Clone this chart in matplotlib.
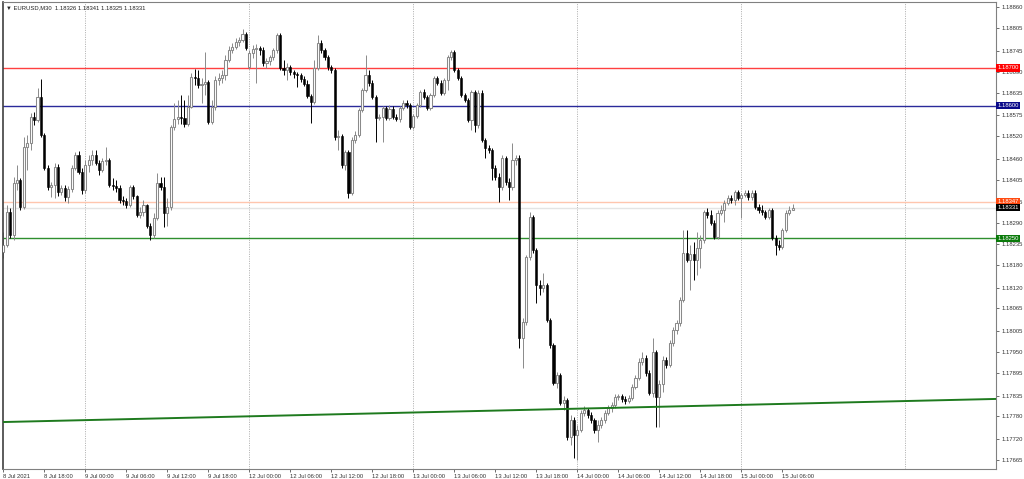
"""EURUSD M30 candlestick chart in the MetaTrader style."""

import matplotlib

matplotlib.use("Agg")

import matplotlib.pyplot as plt
import numpy as np

plt.rcParams["font.family"] = ["Liberation Sans Narrow", "Liberation Sans", "DejaVu Sans"]

HEADER = "\u25bc EURUSD,M30  1.18326 1.18341 1.18325 1.18331"

# OHLC of each M30 bar, from 8 Jul 2021 12:00 to 15 Jul 2021 07:30
OPENS = [
    1.18214, 1.18232, 1.18320, 1.18259, 1.18396, 1.18404, 1.18333, 1.18491, 1.18502, 1.18570,
    1.18562, 1.18623, 1.18523, 1.18436, 1.18386, 1.18391, 1.18438, 1.18372, 1.18383, 1.18359,
    1.18380, 1.18436, 1.18470, 1.18425, 1.18378, 1.18444, 1.18457, 1.18470, 1.18449, 1.18430,
    1.18454, 1.18457, 1.18391, 1.18388, 1.18383, 1.18351, 1.18349, 1.18338, 1.18386, 1.18362,
    1.18312, 1.18320, 1.18338, 1.18283, 1.18259, 1.18304, 1.18396, 1.18386, 1.18317, 1.18333,
    1.18544, 1.18565, 1.18570, 1.18568, 1.18552, 1.18597, 1.18676, 1.18673, 1.18655, 1.18657,
    1.18663, 1.18557, 1.18597, 1.18668, 1.18673, 1.18681, 1.18721, 1.18747, 1.18755, 1.18768,
    1.18773, 1.18789, 1.18702, 1.18739, 1.18750, 1.18752, 1.18747, 1.18713, 1.18718, 1.18729,
    1.18747, 1.18787, 1.18700, 1.18694, 1.18702, 1.18689, 1.18684, 1.18681, 1.18671, 1.18657,
    1.18626, 1.18610, 1.18700, 1.18766, 1.18747, 1.18729, 1.18702, 1.18694, 1.18517, 1.18520,
    1.18444, 1.18478, 1.18370, 1.18510, 1.18523, 1.18589, 1.18641, 1.18681, 1.18660, 1.18623,
    1.18568, 1.18570, 1.18594, 1.18568, 1.18591, 1.18570, 1.18565, 1.18594, 1.18607, 1.18602,
    1.18544, 1.18573, 1.18602, 1.18636, 1.18623, 1.18594, 1.18628, 1.18673, 1.18660, 1.18634,
    1.18668, 1.18729, 1.18742, 1.18694, 1.18673, 1.18628, 1.18615, 1.18562, 1.18636, 1.18549,
    1.18634, 1.18510, 1.18488, 1.18483, 1.18436, 1.18412, 1.18386, 1.18462, 1.18399, 1.18386,
    1.18457, 1.18462, 1.17987, 1.18029, 1.18201, 1.18306, 1.18219, 1.18127, 1.18119, 1.18127,
    1.18035, 1.17969, 1.17868, 1.17889, 1.17815, 1.17823, 1.17726, 1.17771, 1.17731, 1.17744,
    1.17789, 1.17797, 1.17784, 1.17771, 1.17744, 1.17757, 1.17771, 1.17789, 1.17802, 1.17810,
    1.17831, 1.17834, 1.17826, 1.17821, 1.17829, 1.17858, 1.17882, 1.17924, 1.17934, 1.17895,
    1.17842, 1.17950, 1.17831, 1.17866, 1.17929, 1.17916, 1.17974, 1.18008, 1.18027, 1.18087,
    1.18211, 1.18193, 1.18209, 1.18193, 1.18225, 1.18246, 1.18320, 1.18312, 1.18290, 1.18254,
    1.18317, 1.18325, 1.18343, 1.18356, 1.18351, 1.18372, 1.18356, 1.18364, 1.18370, 1.18359,
    1.18370, 1.18333, 1.18325, 1.18320, 1.18306, 1.18325, 1.18251, 1.18232, 1.18227, 1.18272,
    1.18317, 1.18326,
]
HIGHS = [
    1.18267, 1.18338, 1.18330, 1.18412, 1.18444, 1.18409, 1.18517, 1.18523, 1.18581, 1.18583,
    1.18647, 1.18671, 1.18528, 1.18444, 1.18399, 1.18449, 1.18446, 1.18391, 1.18391, 1.18388,
    1.18444, 1.18478, 1.18481, 1.18436, 1.18457, 1.18470, 1.18483, 1.18483, 1.18457, 1.18462,
    1.18491, 1.18462, 1.18409, 1.18404, 1.18391, 1.18362, 1.18356, 1.18391, 1.18391, 1.18364,
    1.18333, 1.18351, 1.18341, 1.18290, 1.18317, 1.18422, 1.18412, 1.18412, 1.18356, 1.18549,
    1.18607, 1.18615, 1.18628, 1.18615, 1.18628, 1.18686, 1.18697, 1.18694, 1.18673, 1.18742,
    1.18668, 1.18615, 1.18678, 1.18686, 1.18694, 1.18734, 1.18758, 1.18766, 1.18779, 1.18781,
    1.18802, 1.18795, 1.18747, 1.18760, 1.18763, 1.18758, 1.18755, 1.18726, 1.18734, 1.18752,
    1.18792, 1.18792, 1.18721, 1.18713, 1.18707, 1.18694, 1.18689, 1.18686, 1.18678, 1.18668,
    1.18631, 1.18721, 1.18787, 1.18773, 1.18752, 1.18734, 1.18707, 1.18700, 1.18536, 1.18525,
    1.18483, 1.18483, 1.18517, 1.18533, 1.18594, 1.18647, 1.18734, 1.18694, 1.18668, 1.18628,
    1.18578, 1.18599, 1.18599, 1.18602, 1.18599, 1.18578, 1.18599, 1.18615, 1.18615, 1.18607,
    1.18578, 1.18607, 1.18641, 1.18644, 1.18628, 1.18634, 1.18678, 1.18678, 1.18668, 1.18673,
    1.18734, 1.18747, 1.18747, 1.18700, 1.18678, 1.18634, 1.18620, 1.18641, 1.18641, 1.18641,
    1.18641, 1.18515, 1.18496, 1.18488, 1.18444, 1.18422, 1.18470, 1.18467, 1.18409, 1.18502,
    1.18470, 1.18470, 1.18040, 1.18206, 1.18320, 1.18312, 1.18225, 1.18140, 1.18159, 1.18132,
    1.18040, 1.17974, 1.17897, 1.17895, 1.17834, 1.17829, 1.17784, 1.17779, 1.17757, 1.17797,
    1.17808, 1.17802, 1.17792, 1.17776, 1.17771, 1.17779, 1.17797, 1.17810, 1.17818, 1.17839,
    1.17839, 1.17839, 1.17834, 1.17837, 1.17866, 1.17889, 1.17934, 1.17950, 1.17942, 1.17903,
    1.17987, 1.17955, 1.17876, 1.17940, 1.17937, 1.17982, 1.18016, 1.18035, 1.18095, 1.18272,
    1.18272, 1.18232, 1.18240, 1.18267, 1.18259, 1.18325, 1.18330, 1.18325, 1.18298, 1.18325,
    1.18338, 1.18351, 1.18364, 1.18364, 1.18378, 1.18378, 1.18370, 1.18378, 1.18378, 1.18378,
    1.18378, 1.18341, 1.18338, 1.18325, 1.18330, 1.18330, 1.18259, 1.18246, 1.18277, 1.18325,
    1.18335, 1.18341,
]
LOWS = [
    1.18198, 1.18227, 1.18251, 1.18246, 1.18378, 1.18325, 1.18327, 1.18430, 1.18483, 1.18549,
    1.18557, 1.18517, 1.18430, 1.18378, 1.18359, 1.18356, 1.18362, 1.18364, 1.18349, 1.18343,
    1.18372, 1.18430, 1.18420, 1.18367, 1.18370, 1.18425, 1.18444, 1.18444, 1.18417, 1.18425,
    1.18444, 1.18386, 1.18378, 1.18372, 1.18343, 1.18338, 1.18330, 1.18333, 1.18354, 1.18306,
    1.18304, 1.18309, 1.18277, 1.18246, 1.18251, 1.18298, 1.18378, 1.18280, 1.18283, 1.18325,
    1.18536, 1.18552, 1.18552, 1.18544, 1.18546, 1.18594, 1.18655, 1.18647, 1.18607, 1.18628,
    1.18552, 1.18552, 1.18589, 1.18655, 1.18660, 1.18668, 1.18715, 1.18739, 1.18750, 1.18758,
    1.18768, 1.18747, 1.18697, 1.18726, 1.18660, 1.18734, 1.18705, 1.18700, 1.18707, 1.18721,
    1.18739, 1.18694, 1.18681, 1.18668, 1.18681, 1.18673, 1.18649, 1.18663, 1.18652, 1.18620,
    1.18554, 1.18605, 1.18694, 1.18739, 1.18721, 1.18694, 1.18686, 1.18510, 1.18483, 1.18436,
    1.18430, 1.18356, 1.18364, 1.18502, 1.18517, 1.18583, 1.18636, 1.18652, 1.18618, 1.18504,
    1.18562, 1.18504, 1.18562, 1.18562, 1.18565, 1.18560, 1.18557, 1.18589, 1.18594, 1.18539,
    1.18539, 1.18568, 1.18597, 1.18618, 1.18589, 1.18589, 1.18623, 1.18655, 1.18628, 1.18628,
    1.18641, 1.18721, 1.18689, 1.18668, 1.18623, 1.18610, 1.18557, 1.18536, 1.18531, 1.18541,
    1.18504, 1.18462, 1.18475, 1.18404, 1.18404, 1.18346, 1.18378, 1.18391, 1.18351, 1.18378,
    1.18444, 1.17961, 1.17908, 1.18021, 1.18193, 1.18211, 1.18079, 1.18101, 1.18108, 1.18029,
    1.17961, 1.17863, 1.17855, 1.17810, 1.17797, 1.17718, 1.17705, 1.17670, 1.17665, 1.17739,
    1.17781, 1.17776, 1.17763, 1.17736, 1.17713, 1.17750, 1.17763, 1.17784, 1.17792, 1.17802,
    1.17823, 1.17818, 1.17813, 1.17815, 1.17823, 1.17852, 1.17876, 1.17916, 1.17887, 1.17837,
    1.17831, 1.17752, 1.17752, 1.17845, 1.17908, 1.17911, 1.17966, 1.17998, 1.18019, 1.18082,
    1.18188, 1.18114, 1.18140, 1.18153, 1.18172, 1.18238, 1.18304, 1.18285, 1.18248, 1.18248,
    1.18312, 1.18293, 1.18338, 1.18343, 1.18338, 1.18351, 1.18304, 1.18359, 1.18351, 1.18351,
    1.18327, 1.18317, 1.18312, 1.18301, 1.18301, 1.18246, 1.18206, 1.18219, 1.18222, 1.18267,
    1.18312, 1.18325,
]
CLOSES = [
    1.18232, 1.18320, 1.18259, 1.18396, 1.18404, 1.18333, 1.18491, 1.18502, 1.18570, 1.18562,
    1.18623, 1.18523, 1.18436, 1.18386, 1.18391, 1.18438, 1.18372, 1.18383, 1.18359, 1.18380,
    1.18436, 1.18470, 1.18425, 1.18378, 1.18444, 1.18457, 1.18470, 1.18449, 1.18430, 1.18454,
    1.18457, 1.18391, 1.18388, 1.18383, 1.18351, 1.18349, 1.18338, 1.18386, 1.18362, 1.18312,
    1.18320, 1.18338, 1.18283, 1.18259, 1.18304, 1.18396, 1.18386, 1.18317, 1.18333, 1.18544,
    1.18565, 1.18570, 1.18568, 1.18552, 1.18597, 1.18676, 1.18673, 1.18655, 1.18657, 1.18663,
    1.18557, 1.18597, 1.18668, 1.18673, 1.18681, 1.18721, 1.18747, 1.18755, 1.18768, 1.18773,
    1.18789, 1.18752, 1.18739, 1.18750, 1.18752, 1.18747, 1.18713, 1.18718, 1.18729, 1.18747,
    1.18787, 1.18700, 1.18694, 1.18702, 1.18689, 1.18684, 1.18681, 1.18671, 1.18657, 1.18626,
    1.18610, 1.18700, 1.18766, 1.18747, 1.18729, 1.18702, 1.18694, 1.18517, 1.18520, 1.18444,
    1.18478, 1.18370, 1.18510, 1.18523, 1.18589, 1.18641, 1.18681, 1.18660, 1.18623, 1.18568,
    1.18570, 1.18594, 1.18568, 1.18591, 1.18570, 1.18565, 1.18594, 1.18607, 1.18602, 1.18544,
    1.18573, 1.18602, 1.18636, 1.18623, 1.18594, 1.18628, 1.18673, 1.18660, 1.18634, 1.18668,
    1.18729, 1.18742, 1.18694, 1.18673, 1.18628, 1.18615, 1.18562, 1.18636, 1.18549, 1.18634,
    1.18510, 1.18488, 1.18483, 1.18436, 1.18412, 1.18386, 1.18462, 1.18399, 1.18386, 1.18457,
    1.18462, 1.17987, 1.18029, 1.18201, 1.18306, 1.18219, 1.18127, 1.18119, 1.18127, 1.18035,
    1.17969, 1.17868, 1.17889, 1.17815, 1.17823, 1.17726, 1.17771, 1.17731, 1.17744, 1.17789,
    1.17797, 1.17784, 1.17771, 1.17744, 1.17757, 1.17771, 1.17789, 1.17802, 1.17810, 1.17831,
    1.17834, 1.17826, 1.17821, 1.17829, 1.17858, 1.17882, 1.17924, 1.17934, 1.17895, 1.17842,
    1.17950, 1.17831, 1.17866, 1.17929, 1.17916, 1.17974, 1.18008, 1.18027, 1.18087, 1.18211,
    1.18193, 1.18209, 1.18193, 1.18225, 1.18246, 1.18320, 1.18312, 1.18290, 1.18254, 1.18317,
    1.18325, 1.18343, 1.18356, 1.18351, 1.18372, 1.18356, 1.18364, 1.18370, 1.18359, 1.18370,
    1.18333, 1.18325, 1.18320, 1.18306, 1.18325, 1.18251, 1.18232, 1.18227, 1.18272, 1.18317,
    1.18326, 1.18331,
]

TIME_LABELS = [
    "8 Jul 2021", "8 Jul 18:00", "9 Jul 00:00", "9 Jul 06:00", "9 Jul 12:00",
    "9 Jul 18:00", "12 Jul 00:00", "12 Jul 06:00", "12 Jul 12:00", "12 Jul 18:00",
    "13 Jul 00:00", "13 Jul 06:00", "13 Jul 12:00", "13 Jul 18:00", "14 Jul 00:00",
    "14 Jul 06:00", "14 Jul 12:00", "14 Jul 18:00", "15 Jul 00:00", "15 Jul 06:00",
]
BARS_PER_LABEL = 12            # 6 hours of M30 bars
DAY_START_BARS = [24, 72, 120, 168, 216, 264]

PRICE_TICKS = [
    1.18860, 1.18805, 1.18745, 1.18690, 1.18635, 1.18575, 1.18520, 1.18460,
    1.18405, 1.18345, 1.18290, 1.18235, 1.18180, 1.18120, 1.18065, 1.18005,
    1.17950, 1.17895, 1.17835, 1.17780, 1.17720, 1.17665,
]

# horizontal levels: resistance, pivot, ask, bid, support
LEVEL_PRICES = [1.18700, 1.18600, 1.18347, 1.18331, 1.18250]
LEVEL_LABELS = ["1.18700", "1.18600", "1.18347", "1.18331", "1.18250"]

# rising trend line anchors (bar index, price)
TREND_BARS = [0, 290.6]
TREND_PRICES = [1.17765, 1.17826]

# colours
BULL_EDGE = "#8a8a8a"
BEAR = "#000000"
LEVEL_LINE_COLORS = ["#ff4040", "#2a2a9a", "#ffc6ae", "#e4e4e4", "#2f8f2f"]
LEVEL_BOX_COLORS = ["#ff0000", "#0a0a8a", "#ff4a10", "#000000", "#0a7a0a"]
TREND_COLOR = "#1e7a1e"
GRID_COLOR = "#a0a0a0"
TEXT_COLOR = "#333333"
FS = 4.2

W, H = 1024, 479
fig = plt.figure(figsize=(W / 100, H / 100), dpi=100)
fig.patch.set_facecolor("white")
ax = fig.add_axes([3 / W, 10 / H, 993 / W, 467 / H])

o = np.array(OPENS)
hi = np.array(HIGHS)
lo = np.array(LOWS)
c = np.array(CLOSES)
x = np.arange(len(c))
up = c >= o
dn = ~up

# day separators
for d in DAY_START_BARS:
    ax.axvline(d, color=GRID_COLOR, linewidth=0.6, linestyle=(0, (1.2, 1.6)), zorder=1)

# levels
for price, col in zip(LEVEL_PRICES, LEVEL_LINE_COLORS):
    ax.axhline(price, color=col, linewidth=1.0, zorder=1.5)

# candles
ax.vlines(x[up], lo[up], hi[up], color=BULL_EDGE, linewidth=0.7, zorder=2)
ax.vlines(x[dn], lo[dn], hi[dn], color=BEAR, linewidth=0.7, zorder=2)
ax.bar(x[up], np.maximum(c[up] - o[up], 0.00002), bottom=o[up], width=0.62,
       color="white", edgecolor=BULL_EDGE, linewidth=0.75, zorder=3)
ax.bar(x[dn], np.maximum(o[dn] - c[dn], 0.00002), bottom=c[dn], width=0.62,
       color=BEAR, edgecolor=BEAR, linewidth=0.4, zorder=3)

# trend line
ax.plot(TREND_BARS, TREND_PRICES, color=TREND_COLOR, linewidth=1.4, zorder=4)

ax.set_xlim(-0.1, 290.5)
ax.set_ylim(1.17641, 1.18874)

# price axis on the right
ax.yaxis.tick_right()
ax.set_yticks(PRICE_TICKS)
ax.set_yticklabels([f"{p:.5f}" for p in PRICE_TICKS])
ax.tick_params(axis="y", labelsize=FS, colors=TEXT_COLOR, length=2, width=0.5, pad=2)

# time axis
ax.set_xticks(np.arange(len(TIME_LABELS)) * BARS_PER_LABEL)
ax.set_xticklabels(TIME_LABELS, ha="left")
ax.tick_params(axis="x", labelsize=FS, colors=TEXT_COLOR, length=2, width=0.5, pad=1.5)

for side, spine in ax.spines.items():
    spine.set_color("#808080")
    spine.set_linewidth(0.8)
ax.spines["left"].set_color("#404040")
ax.spines["left"].set_linewidth(1.2)

# price boxes on the scale (ask and bid boxes sit edge to edge)
for price, text, col in zip(LEVEL_PRICES, LEVEL_LABELS, LEVEL_BOX_COLORS):
    ax.text(1.0015, price, text, transform=ax.get_yaxis_transform(),
            ha="left", va="center", fontsize=FS, color="white", clip_on=False,
            zorder=10,
            bbox=dict(boxstyle="square,pad=0.2", facecolor=col, edgecolor="none"))

# symbol header
ax.text(0.003, 0.993, HEADER, transform=ax.transAxes, ha="left", va="top",
        fontsize=FS, color="#222222")

fig.savefig("out.png", dpi=100, facecolor="white")
